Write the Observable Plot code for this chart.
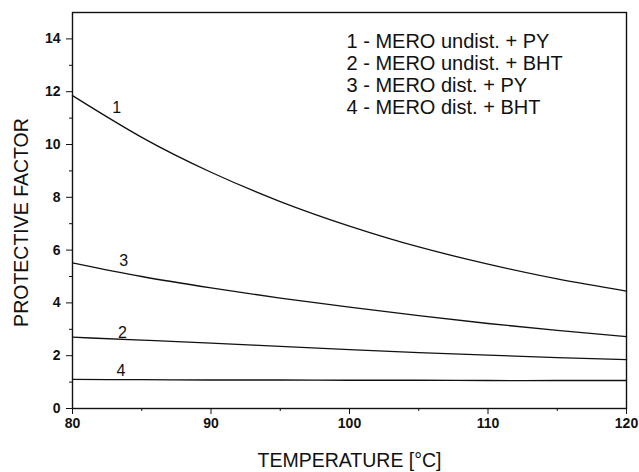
<!DOCTYPE html>
<html>
<head>
<meta charset="utf-8">
<script src="https://cdn.jsdelivr.net/npm/d3@7"></script>
<script src="https://cdn.jsdelivr.net/npm/@observablehq/plot@0.6"></script>
<style>
  body { margin: 0; background: #fff; }
  #chart svg { display: block; }
  .ticklab text { font-weight: bold; }
</style>
</head>
<body>
<div id="chart"></div>
<script>
const temps  = [80, 85, 90, 95, 100, 105, 110, 115, 120];
const curve1 = [11.85, 10.27, 8.95, 7.84, 6.91, 6.12, 5.47, 4.91, 4.45];
const curve2 = [2.7, 2.59, 2.48, 2.35, 2.23, 2.12, 2.02, 1.93, 1.85];
const curve3 = [5.52, 5.0, 4.57, 4.18, 3.84, 3.52, 3.22, 2.96, 2.72];
const curve4 = [1.1, 1.09, 1.08, 1.08, 1.07, 1.07, 1.06, 1.06, 1.06];
const seriesIds = ["1", "2", "3", "4"];
const labelX = [83.2, 83.6, 83.7, 83.5];
const labelY = [11.37, 2.85, 5.59, 1.41];
const legendLines = [
  "1 - MERO undist. + PY",
  "2 - MERO undist. + BHT",
  "3 - MERO dist. + PY",
  "4 - MERO dist. + BHT"
];
const xMajor = [80, 90, 100, 110, 120];
const xMinor = [85, 95, 105, 115];
const yMajor = [0, 2, 4, 6, 8, 10, 12, 14];
const yMinor = [1, 3, 5, 7, 9, 11, 13];

const allSeries = [curve1, curve2, curve3, curve4];
const rows = [];
allSeries.forEach((vals, i) => vals.forEach((v, j) => rows.push({id: seriesIds[i], t: temps[j], v})));
const labels = seriesIds.map((id, i) => ({id, x: labelX[i], y: labelY[i]}));

const plot = Plot.plot({
  width: 639,
  height: 472,
  marginLeft: 72,
  marginRight: 13,
  marginTop: 12,
  marginBottom: 64,
  style: {fontFamily: "'Liberation Sans', Arial, sans-serif", fontSize: "14px", color: "#111", background: "#fff"},
  x: {domain: [80, 120]},
  y: {domain: [0, 15]},
  marks: [
    Plot.axisX({ticks: xMajor, tickSize: 6, tickPadding: 4, label: null, className: "ticklab", fontSize: 14, tickFormat: d => d}),
    Plot.axisX({ticks: xMinor, tickSize: 3, text: null, label: null}),
    Plot.axisY({ticks: yMajor, tickSize: 6, tickPadding: 6, label: null, className: "ticklab", fontSize: 14, tickFormat: d => d}),
    Plot.axisY({ticks: yMinor, tickSize: 3, text: null, label: null}),
    Plot.frame({stroke: "#111", strokeWidth: 1.4}),
    Plot.line(rows, {x: "t", y: "v", z: "id", curve: "natural", stroke: "#111", strokeWidth: 1.3}),
    Plot.text(labels, {x: "x", y: "y", text: "id", fontSize: 16, fill: "#111"}),
    Plot.text([legendLines.join("\n")], {frameAnchor: "top-left", textAnchor: "start", lineAnchor: "top", dx: 274, dy: 20, fontSize: 20, lineHeight: 1.1, fill: "#111"}),
    Plot.text(["TEMPERATURE [°C]"], {frameAnchor: "bottom", lineAnchor: "bottom", dy: 58, fontSize: 19.5, fill: "#111"}),
    Plot.text(["PROTECTIVE FACTOR"], {frameAnchor: "left", textAnchor: "middle", rotate: -90, dx: -51, dy: 12, fontSize: 19.5, fill: "#111"})
  ]
});
document.getElementById("chart").appendChild(plot);
</script>
</body>
</html>
